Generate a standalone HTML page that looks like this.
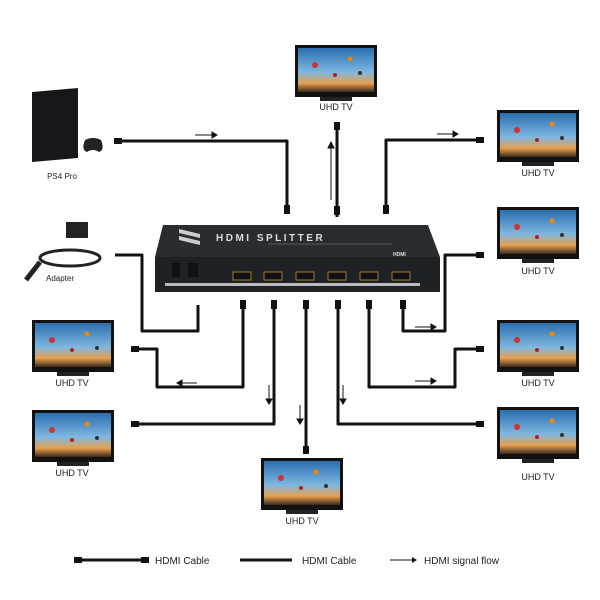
<!DOCTYPE html>
<html><head><style>
html,body{margin:0;padding:0;background:#fff;}
svg{display:block;font-family:"Liberation Sans",sans-serif;}
</style></head><body>
<svg width="600" height="600" viewBox="0 0 600 600">
<defs>
<linearGradient id="sky" x1="0" y1="0" x2="0" y2="1">
<stop offset="0" stop-color="#2a6fb0"/><stop offset="0.55" stop-color="#7fb7e0"/><stop offset="0.8" stop-color="#e8a050"/><stop offset="1" stop-color="#3a2a1a"/>
</linearGradient>
<g id="tv">
<rect x="0" y="0" width="82" height="52" fill="#111"/>
<rect x="3" y="3" width="76" height="44" fill="url(#sky)"/>
<circle cx="20" cy="20" r="3" fill="#c33"/><circle cx="55" cy="14" r="2.5" fill="#e80"/><circle cx="40" cy="30" r="2" fill="#a22"/><circle cx="65" cy="28" r="2" fill="#333"/>
<rect x="25" y="52" width="32" height="4" fill="#222"/>
</g>
</defs>
<g fill="none" stroke="#111" stroke-width="3" stroke-linejoin="round">
<polyline points="120,141 287,141 287,213"/>
<polyline points="337,122 337,217"/>
<polyline points="386,213 386,140 482,140"/>
<polyline points="115,255 142,255 142,331 198,331 198,305"/>
<polyline points="243,305 243,387 157,387 157,349 133,349"/>
<polyline points="274,305 274,424 133,424"/>
<polyline points="306,305 306,453"/>
<polyline points="338,305 338,424 482,424"/>
<polyline points="369,305 369,387 455,387 455,349 482,349"/>
<polyline points="403,305 403,331 445,331 445,255 482,255"/>
</g>
<g fill="#111">
<rect x="114" y="138" width="8" height="6"/><rect x="284" y="205" width="6" height="9"/>
<rect x="334" y="122" width="6" height="8"/><rect x="334" y="206" width="6" height="9"/>
<rect x="383" y="205" width="6" height="9"/><rect x="476" y="137" width="8" height="6"/>
<rect x="476" y="252" width="8" height="6"/><rect x="476" y="346" width="8" height="6"/><rect x="476" y="421" width="8" height="6"/>
<rect x="131" y="346" width="8" height="6"/><rect x="131" y="421" width="8" height="6"/>
<rect x="303" y="446" width="6" height="8"/>
<rect x="240" y="300" width="6" height="9"/><rect x="271" y="300" width="6" height="9"/><rect x="303" y="300" width="6" height="9"/><rect x="335" y="300" width="6" height="9"/><rect x="366" y="300" width="6" height="9"/><rect x="400" y="300" width="6" height="9"/>
</g>
<g stroke="#111" stroke-width="1" fill="#111">
<line x1="195" y1="135" x2="212" y2="135"/><path d="M212,132 L217,135 L212,138z"/>
<line x1="331" y1="200" x2="331" y2="148"/><path d="M328,148 L331,142 L334,148z"/>
<line x1="437" y1="134" x2="453" y2="134"/><path d="M453,131 L458,134 L453,137z"/>
<line x1="415" y1="327" x2="431" y2="327"/><path d="M431,324 L436,327 L431,330z"/>
<line x1="197" y1="383" x2="182" y2="383"/><path d="M182,380 L177,383 L182,386z"/>
<line x1="269" y1="385" x2="269" y2="399"/><path d="M266,399 L269,404 L272,399z"/>
<line x1="300" y1="405" x2="300" y2="419"/><path d="M297,419 L300,424 L303,419z"/>
<line x1="343" y1="385" x2="343" y2="399"/><path d="M340,399 L343,404 L346,399z"/>
<line x1="415" y1="381" x2="431" y2="381"/><path d="M431,378 L436,381 L431,384z"/>
</g>
<!-- splitter -->
<path d="M163,225 L428,225 L440,257 L155,257z" fill="#2a2d30"/>
<rect x="155" y="257" width="285" height="35" fill="#1f2225"/>
<path d="M179,229 L200,234 L200,238 L179,233z M179,236 L200,241 L200,245 L179,240z" fill="#ccc"/>
<text x="216" y="241" font-size="10" fill="#ddd" font-weight="bold" letter-spacing="2.5">HDMI SPLITTER</text>
<line x1="268" y1="244" x2="392" y2="244" stroke="#888" stroke-width="0.6"/>
<text x="393" y="256" font-size="5" fill="#ddd" font-weight="bold">HDMI</text>
<rect x="172" y="263" width="8" height="14" fill="#111"/><rect x="188" y="263" width="10" height="14" fill="#111"/>
<g fill="#111" stroke="#a07a30" stroke-width="1">
<rect x="233" y="272" width="18" height="8"/><rect x="264" y="272" width="18" height="8"/><rect x="296" y="272" width="18" height="8"/><rect x="328" y="272" width="18" height="8"/><rect x="360" y="272" width="18" height="8"/><rect x="392" y="272" width="18" height="8"/>
</g>
<rect x="165" y="283" width="255" height="3" fill="#bbb"/>
<!-- PS4 -->
<path d="M32,92 L78,88 L78,158 L32,162z" fill="#15171a"/>
<path d="M85,140 q8,-4 16,0 q4,10 -2,12 q-6,-4 -12,0 q-6,-2 -2,-12z" fill="#222"/>
<text x="62" y="179" font-size="8" text-anchor="middle" fill="#222">PS4 Pro</text>
<!-- adapter -->
<rect x="66" y="222" width="22" height="16" fill="#222"/>
<ellipse cx="70" cy="258" rx="30" ry="8" fill="none" stroke="#222" stroke-width="3"/>
<line x1="40" y1="262" x2="26" y2="280" stroke="#222" stroke-width="5"/>
<text x="60" y="281" font-size="8" text-anchor="middle" fill="#222">Adapter</text>
<!-- TVs -->
<use href="#tv" x="295" y="45"/><text x="336" y="110" font-size="9" text-anchor="middle" fill="#222">UHD TV</text>
<use href="#tv" x="497" y="110"/><text x="538" y="176" font-size="9" text-anchor="middle" fill="#222">UHD TV</text>
<use href="#tv" x="497" y="207"/><text x="538" y="274" font-size="9" text-anchor="middle" fill="#222">UHD TV</text>
<use href="#tv" x="497" y="320"/><text x="538" y="386" font-size="9" text-anchor="middle" fill="#222">UHD TV</text>
<use href="#tv" x="497" y="407"/><text x="538" y="480" font-size="9" text-anchor="middle" fill="#222">UHD TV</text>
<use href="#tv" x="32" y="320"/><text x="72" y="386" font-size="9" text-anchor="middle" fill="#222">UHD TV</text>
<use href="#tv" x="32" y="410"/><text x="72" y="476" font-size="9" text-anchor="middle" fill="#222">UHD TV</text>
<use href="#tv" x="261" y="458"/><text x="302" y="524" font-size="9" text-anchor="middle" fill="#222">UHD TV</text>
<!-- legend -->
<line x1="78" y1="560" x2="145" y2="560" stroke="#111" stroke-width="3"/>
<rect x="74" y="557" width="8" height="6" fill="#111"/><rect x="141" y="557" width="8" height="6" fill="#111"/>
<text x="155" y="564" font-size="10" fill="#222">HDMI Cable</text>
<line x1="240" y1="560" x2="292" y2="560" stroke="#111" stroke-width="3"/>
<text x="302" y="564" font-size="10" fill="#222">HDMI Cable</text>
<line x1="390" y1="560" x2="412" y2="560" stroke="#111" stroke-width="1"/><path d="M412,557 L417,560 L412,563z" fill="#111"/>
<text x="424" y="564" font-size="10" fill="#222">HDMI signal flow</text>
</svg>
</body></html>
